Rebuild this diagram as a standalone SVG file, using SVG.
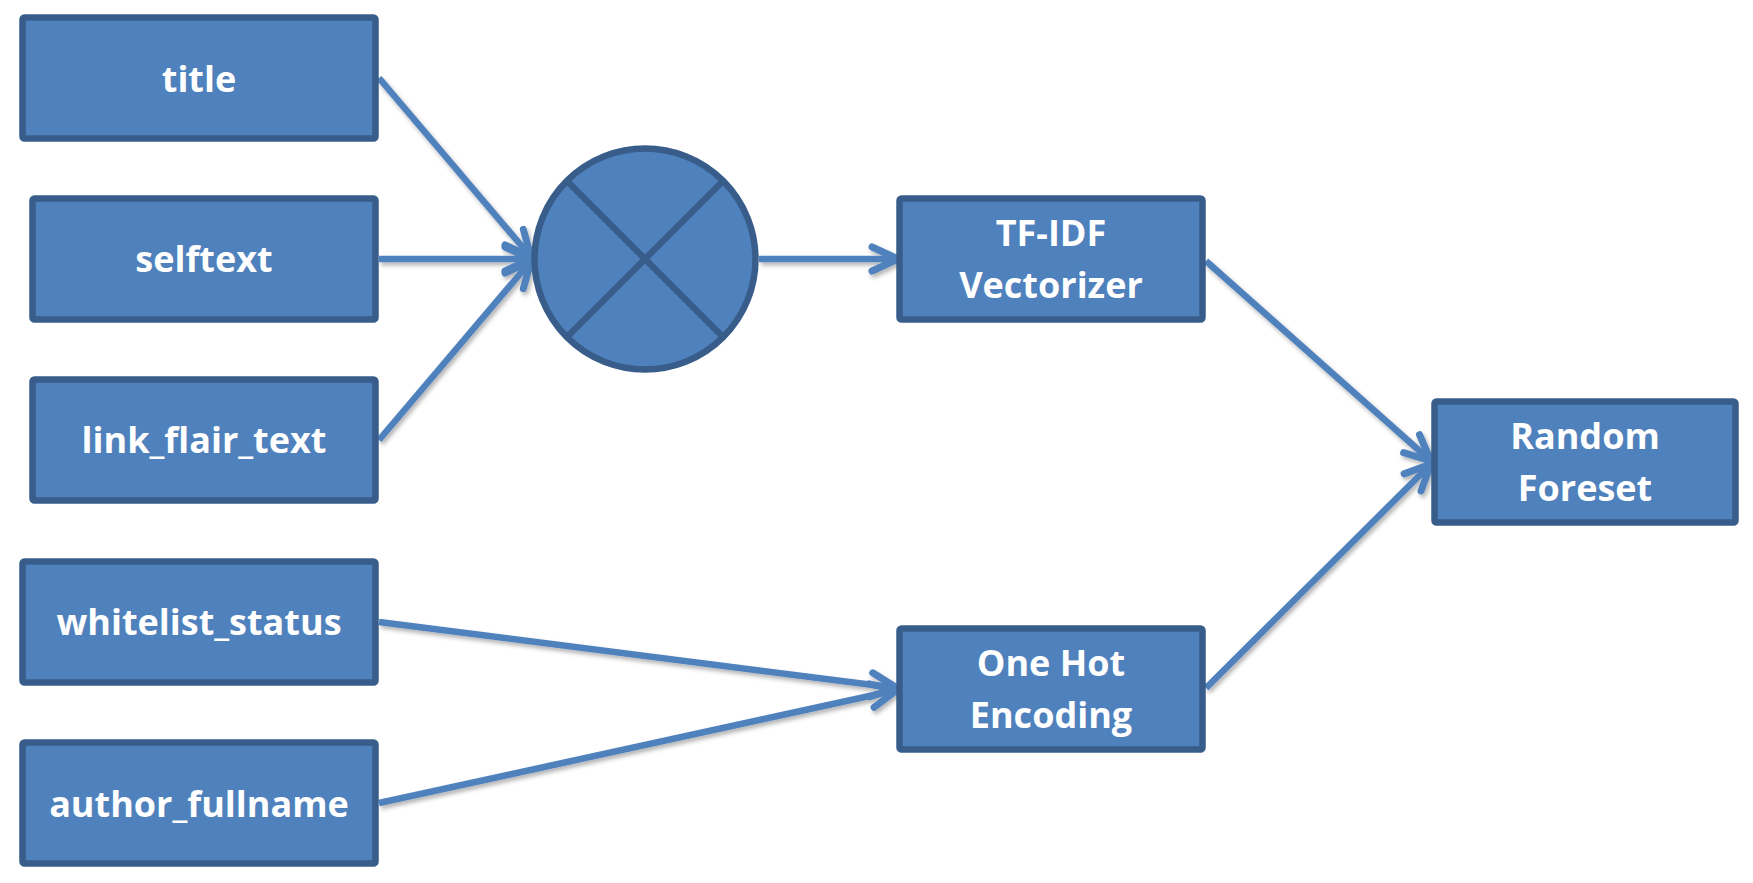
<svg xmlns="http://www.w3.org/2000/svg" width="1753" height="883" viewBox="0 0 1753 883">
<style>
.box{fill:#4F81BD;stroke:#385D8A;stroke-width:6.5}
.lbl{font-family:"Open Sans","Liberation Sans",sans-serif;font-weight:bold;font-size:36px;fill:#FFFFFF;text-anchor:middle}
.con{fill:none;stroke:#4F81BD;stroke-width:6.5;marker-end:url(#arr)}
.xl{stroke:#385D8A;stroke-width:6.5;fill:none}
</style>
<defs>
<marker id="arr" markerUnits="userSpaceOnUse" viewBox="-32 -20 38 40" refX="0" refY="0" markerWidth="38" markerHeight="40" orient="auto" overflow="visible">
<path d="M-26,-12 L0,0 L-26,12" fill="none" stroke="#4F81BD" stroke-width="7" stroke-linecap="round" stroke-linejoin="round"/>
</marker>
<filter id="sh" x="-10%" y="-10%" width="120%" height="130%">
<feDropShadow dx="2" dy="3" stdDeviation="2" flood-color="#000000" flood-opacity="0.3"/>
</filter>
</defs>
<rect width="1753" height="883" fill="#FFFFFF"/>
<g id="connectors" filter="url(#sh)">
<path class="con" d="M379,78 L531,257"/>
<path class="con" d="M379,259 L531,259"/>
<path class="con" d="M379,440 L531,261"/>
<path class="con" d="M759,259 L898,259"/>
<path class="con" d="M1206,261 L1431,461"/>
<path class="con" d="M379,622 L897,688"/>
<path class="con" d="M379,803 L897,690"/>
<path class="con" d="M1206,688 L1431,464"/>
</g>
<g id="title">
<rect class="box" x="22.5" y="17.5" width="353" height="121" rx="2"/>
<text class="lbl" x="199" y="92">title</text>
</g>
<g id="selftext">
<rect class="box" x="32.5" y="198.5" width="343" height="121" rx="2"/>
<text class="lbl" x="204" y="272">selftext</text>
</g>
<g id="link_flair_text">
<rect class="box" x="32.5" y="379.5" width="343" height="121" rx="2"/>
<text class="lbl" x="204" y="453">link_flair_text</text>
</g>
<g id="whitelist_status">
<rect class="box" x="22.5" y="561.5" width="353" height="121" rx="2"/>
<text class="lbl" x="199" y="635">whitelist_status</text>
</g>
<g id="author_fullname">
<rect class="box" x="22.5" y="742.5" width="353" height="121" rx="2"/>
<text class="lbl" x="199" y="817">author_fullname</text>
</g>
<g id="combine">
<circle cx="645" cy="259" r="110.5" fill="#4F81BD" stroke="#385D8A" stroke-width="6.5"/>
<path class="xl" d="M567,181 L723,337 M723,181 L567,337"/>
</g>
<g id="tfidf">
<rect class="box" x="899.5" y="198.5" width="303" height="121" rx="2"/>
<text class="lbl" x="1051" y="246">TF-IDF</text>
<text class="lbl" x="1051" y="298">Vectorizer</text>
</g>
<g id="onehot">
<rect class="box" x="899.5" y="628.5" width="303" height="121" rx="2"/>
<text class="lbl" x="1051" y="676">One Hot</text>
<text class="lbl" x="1051" y="728">Encoding</text>
</g>
<g id="random">
<rect class="box" x="1434.5" y="401.5" width="301" height="121" rx="2"/>
<text class="lbl" x="1585" y="449">Random</text>
<text class="lbl" x="1585" y="501">Foreset</text>
</g>
</svg>
